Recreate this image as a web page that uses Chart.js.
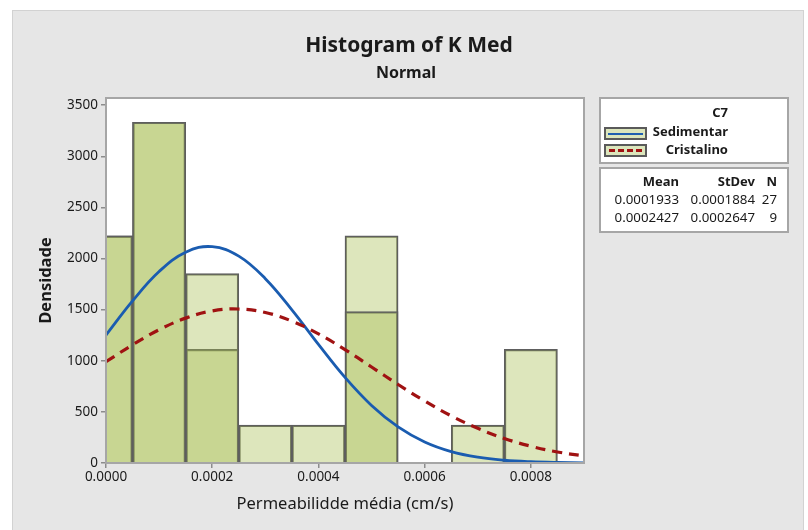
<!DOCTYPE html>
<html>
<head>
<meta charset="utf-8">
<script src="https://cdn.jsdelivr.net/npm/chart.js@4/dist/chart.umd.min.js"></script>
<style>
  body { margin: 0; background: #fff; font-family: "Noto Sans", sans-serif; }
  #wrap { position: relative; width: 808px; height: 530px; background: #fff; overflow: hidden; }
  #frame { position: absolute; left: 12px; top: 10px; width: 792px; height: 530px; background: #e6e6e6; border: 1px solid #d2d2d2; box-sizing: border-box; }
  canvas { position: absolute; left: 0; top: 0; }
  .txt { position: absolute; color: #1a1a1a; white-space: nowrap; }
  .box { position: absolute; background: #fff; border: 2px solid #a6a6a6; box-sizing: border-box; }
  .sw { position: absolute; width: 43px; height: 13px; background: #dce6bc; border: 2px solid #5a5a5a; box-sizing: border-box; }
  .r { text-align: right; }
</style>
</head>
<body>
<div id="wrap">
  <div id="frame"></div>
  <canvas id="myChart" width="808" height="530"></canvas>

  <div class="txt" style="left:0;width:818px;top:30px;text-align:center;font-size:21px;font-weight:bold;">Histogram of K Med</div>
  <div class="txt" style="left:0;width:812px;top:61px;text-align:center;font-size:16px;font-weight:bold;">Normal</div>

  <!-- group legend -->
  <div class="box" style="left:599px;top:97px;width:190px;height:67px;"></div>
  <div class="txt r" style="left:640px;width:88px;top:103px;font-size:13px;font-weight:bold;">C7</div>
  <div class="sw" style="left:604px;top:127px;"><div style="position:absolute;left:2px;right:2px;top:3.5px;border-top:2.5px solid #1f5fb0;"></div></div>
  <div class="txt r" style="left:640px;width:88px;top:122px;font-size:13px;font-weight:bold;">Sedimentar</div>
  <div class="sw" style="left:604px;top:144px;"><div style="position:absolute;left:3px;right:3px;top:3px;border-top:3px dashed #a01212;"></div></div>
  <div class="txt r" style="left:640px;width:88px;top:140px;font-size:13px;font-weight:bold;">Cristalino</div>

  <!-- stats table -->
  <div class="box" style="left:599px;top:167px;width:190px;height:66px;"></div>
  <div class="txt r" style="left:600px;width:79px;top:172px;font-size:13px;font-weight:bold;">Mean</div>
  <div class="txt r" style="left:680px;width:75px;top:172px;font-size:13px;font-weight:bold;">StDev</div>
  <div class="txt r" style="left:756px;width:21px;top:172px;font-size:13px;font-weight:bold;">N</div>
  <div class="txt r" style="left:600px;width:79px;top:190px;font-size:13.3px;">0.0001933</div>
  <div class="txt r" style="left:680px;width:75px;top:190px;font-size:13.3px;">0.0001884</div>
  <div class="txt r" style="left:756px;width:21px;top:190px;font-size:13.3px;">27</div>
  <div class="txt r" style="left:600px;width:79px;top:208px;font-size:13.3px;">0.0002427</div>
  <div class="txt r" style="left:680px;width:75px;top:208px;font-size:13.3px;">0.0002647</div>
  <div class="txt r" style="left:756px;width:21px;top:208px;font-size:13.3px;">9</div>
</div>

<script>
// Histogram bins (centres, width 0.0001)
var binX = [0, 0.0001, 0.0002, 0.0003, 0.0004, 0.0005, 0.0006, 0.0007, 0.0008];
// Density per bin
var sedimentarHist = [2222, 3333, 1852, 370, 370, 1481, 0, 370, 0];
var cristalinoHist = [2222, 3333, 1111, 0, 0, 2222, 0, 0, 1111];

// Fitted normal curves
var curveX = [0, 0.00005, 0.0001, 0.00015, 0.0002, 0.00025, 0.0003, 0.00035, 0.0004, 0.00045,
              0.0005, 0.00055, 0.0006, 0.00065, 0.0007, 0.00075, 0.0008, 0.00085, 0.0009];
var sedimentarCurve = [1251, 1585, 1873, 2062, 2116, 2023, 1803, 1498, 1160, 837,
                       563, 353, 206, 112, 57, 27, 12, 5, 2];
var cristalinoCurve = [990, 1156, 1303, 1417, 1488, 1506, 1472, 1388, 1263, 1109,
                       939, 768, 606, 461, 339, 240, 164, 108, 69];

// Axis ticks
var xTicks = [0, 0.0002, 0.0004, 0.0006, 0.0008];
var yTicks = [0, 500, 1000, 1500, 2000, 2500, 3000, 3500];

function toPoints(xs, ys, dropZero)
{
    return xs.map(function(x, i) {
        return { x: x, y: (dropZero && ys[i] === 0) ? null : ys[i] };
    });
}

// white plot area + grey frame round it
var plotFrame = {
    id: 'plotFrame',
    beforeDatasetsDraw: function(chart) {
        var a = chart.chartArea, ctx = chart.ctx;
        ctx.save();
        ctx.fillStyle = '#ffffff';
        ctx.fillRect(a.left, a.top, a.right - a.left, a.bottom - a.top);
        ctx.restore();
    },
    afterDatasetsDraw: function(chart) {
        var a = chart.chartArea, ctx = chart.ctx;
        ctx.save();
        ctx.strokeStyle = '#a6a6a6';
        ctx.lineWidth = 2;
        ctx.strokeRect(a.left, a.top, a.right - a.left, a.bottom - a.top);
        ctx.restore();
    }
};

var barFill = 'rgba(166,189,79,0.38)';
var tickFont = { family: 'Noto Sans', size: 13.5 };

var ctx = document.getElementById('myChart').getContext('2d');
var chart = new Chart(ctx, {
    type: 'bar',
    data: {
        datasets: [{
            label: 'Cristalino curve',
            type: 'line',
            data: toPoints(curveX, cristalinoCurve),
            borderColor: '#a01212',
            borderWidth: 3.2,
            borderDash: [10, 7],
            pointRadius: 0,
            tension: 0.4,
            fill: false,
            order: 1
        }, {
            label: 'Sedimentar curve',
            type: 'line',
            data: toPoints(curveX, sedimentarCurve),
            borderColor: '#1a5cb0',
            borderWidth: 2.8,
            pointRadius: 0,
            tension: 0.4,
            fill: false,
            order: 2
        }, {
            label: 'Sedimentar',
            data: toPoints(binX, sedimentarHist, true),
            backgroundColor: barFill,
            borderColor: '#5e5e5e',
            borderWidth: 1.5,
            grouped: false,
            barPercentage: 1,
            categoryPercentage: 1,
            order: 3
        }, {
            label: 'Cristalino',
            data: toPoints(binX, cristalinoHist, true),
            backgroundColor: barFill,
            borderColor: '#5e5e5e',
            borderWidth: 1.5,
            grouped: false,
            barPercentage: 1,
            categoryPercentage: 1,
            order: 4
        }]
    },
    options: {
        responsive: false,
        animation: false,
        devicePixelRatio: 1,
        layout: { padding: { top: 98, left: 32, right: 224, bottom: 12 } },
        plugins: {
            legend: { display: false },
            tooltip: { enabled: false },
            title: { display: false }
        },
        scales: {
            x: {
                type: 'linear',
                offset: false,
                min: 0,
                max: 0.0009,
                border: { display: false },
                grid: { offset: false, drawOnChartArea: false, drawTicks: true, tickLength: 5, color: '#8c8c8c', lineWidth: 1.5 },
                ticks: {
                    color: '#1a1a1a',
                    font: tickFont,
                    padding: 1,
                    maxRotation: 0,
                    callback: function(v) { return Number(v).toFixed(4); }
                },
                afterBuildTicks: function(scale) {
                    scale.ticks = xTicks.map(function(v) { return { value: v }; });
                },
                afterFit: function(scale) { scale.height = 55; },
                title: {
                    display: true,
                    text: 'Permeabilidde média (cm/s)',
                    color: '#1a1a1a',
                    font: { family: 'Noto Sans', size: 16.5 },
                    padding: { top: 4, bottom: 4 }
                }
            },
            y: {
                min: 0,
                max: 3570,
                border: { display: false },
                grid: { drawOnChartArea: false, drawTicks: true, tickLength: 5, color: '#8c8c8c', lineWidth: 1.5 },
                ticks: {
                    color: '#1a1a1a',
                    font: tickFont,
                    padding: 3,
                    callback: function(v) { return String(v); }
                },
                afterBuildTicks: function(scale) {
                    scale.ticks = yTicks.map(function(v) { return { value: v }; });
                },
                afterFit: function(scale) { scale.width = 74; },
                title: {
                    display: true,
                    text: 'Densidade',
                    color: '#1a1a1a',
                    font: { family: 'Noto Sans', size: 16.5, weight: 'bold' },
                    padding: { top: 4, bottom: 4 }
                }
            }
        }
    },
    plugins: [plotFrame]
});
</script>
</body>
</html>
